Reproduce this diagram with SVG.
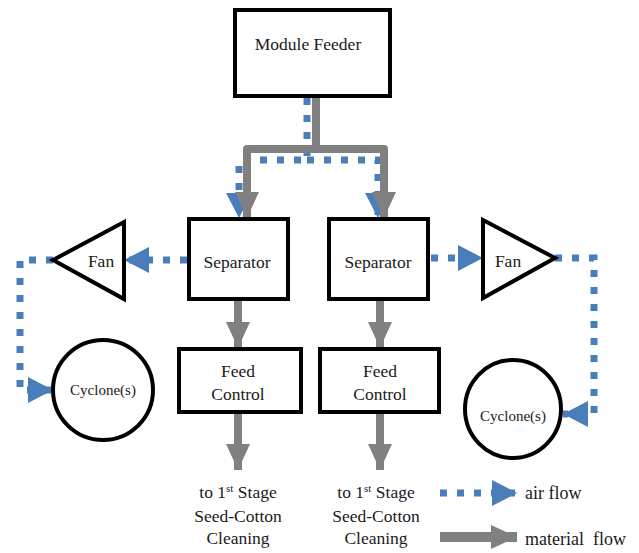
<svg xmlns="http://www.w3.org/2000/svg" width="639" height="553" viewBox="0 0 639 553">
<style>
.box{fill:#fff;stroke:#000;stroke-width:4}
.t{font-family:"Liberation Serif","DejaVu Serif",serif;font-size:17.5px;fill:#1a1a1a;text-anchor:middle}
.s{font-size:15px}
.lg{text-anchor:start;font-size:18px}
.air{fill:none;stroke:#4a7ebb;stroke-width:7;stroke-dasharray:7 10}
.mat{fill:none;stroke:#808080;stroke-width:8;stroke-linejoin:round}
</style>
<defs>
<marker id="hg" markerUnits="userSpaceOnUse" markerWidth="26" markerHeight="26" viewBox="0 0 26 26" refX="26" refY="13" orient="auto"><path d="M0,1 L26,13 L0,25 z" fill="#808080"/></marker>
<marker id="hb" markerUnits="userSpaceOnUse" markerWidth="26" markerHeight="26" viewBox="0 0 26 26" refX="25" refY="13" orient="auto"><path d="M0,0 L25,13 L0,26 z" fill="#4a7ebb"/></marker>
</defs>

<g id="connectors">
<path class="air" d="M307,98 V160 H239 V218" marker-end="url(#hb)"/>
<path class="air" d="M307,160 H378 V218" marker-end="url(#hb)"/>
<path class="mat" d="M316,98 V149 H247 V218" marker-end="url(#hg)"/>
<path class="mat" d="M316,149 H384 V218" marker-end="url(#hg)"/>
<path class="air" d="M187,260 H124" marker-end="url(#hb)"/>
<path class="air" d="M53,260 H20 V390 H53" marker-end="url(#hb)"/>
<path class="air" d="M431,258 H483" marker-end="url(#hb)"/>
<path class="air" d="M555,258 H594 V414 H563" marker-end="url(#hb)"/>
<path class="mat" d="M238,301 V348" marker-end="url(#hg)"/>
<path class="mat" d="M380,301 V348" marker-end="url(#hg)"/>
<path class="mat" d="M238,414 V470" marker-end="url(#hg)"/>
<path class="mat" d="M380,414 V470" marker-end="url(#hg)"/>
</g>

<g id="module-feeder"><rect class="box" x="235" y="10" width="155" height="86"/><text class="t" x="308" y="50">Module Feeder</text></g>
<g id="separator-left"><rect class="box" x="189" y="219" width="99" height="80"/><text class="t" x="237" y="268">Separator</text></g>
<g id="separator-right"><rect class="box" x="329" y="219" width="99" height="80"/><text class="t" x="378" y="268">Separator</text></g>
<g id="fan-left"><polygon class="box" points="53,260 124,222 124,299"/><text class="t" x="101" y="267">Fan</text></g>
<g id="fan-right"><polygon class="box" points="483,220 483,298 555,258"/><text class="t" x="508" y="267">Fan</text></g>
<g id="cyclone-left"><ellipse class="box" cx="103" cy="390" rx="50" ry="50"/><text class="t s" x="103" y="395">Cyclone(s)</text></g>
<g id="cyclone-right"><ellipse class="box" cx="513" cy="409" rx="48" ry="49"/><text class="t s" x="513" y="421">Cyclone(s)</text></g>
<g id="feed-control-left"><rect class="box" x="179" y="349" width="122" height="63"/><text class="t" x="238" y="377">Feed</text><text class="t" x="238" y="400">Control</text></g>
<g id="feed-control-right"><rect class="box" x="320" y="349" width="119" height="63"/><text class="t" x="380" y="377">Feed</text><text class="t" x="380" y="400">Control</text></g>
<g id="out-left"><text class="t" x="238" y="498">to 1<tspan font-size="11" dy="-6">st</tspan><tspan dy="6"> Stage</tspan></text><text class="t" x="238" y="522">Seed-Cotton</text><text class="t" x="238" y="544">Cleaning</text></g>
<g id="out-right"><text class="t" x="376" y="498">to 1<tspan font-size="11" dy="-6">st</tspan><tspan dy="6"> Stage</tspan></text><text class="t" x="376" y="522">Seed-Cotton</text><text class="t" x="376" y="544">Cleaning</text></g>
<g id="legend">
<path class="air" d="M440,493 H517" marker-end="url(#hb)"/>
<path class="mat" style="stroke-width:10" d="M440,537 H517" marker-end="url(#hg)"/>
<text class="t lg" x="525" y="499">air flow</text>
<text class="t lg" x="525" y="545" xml:space="preserve">material  flow</text>
</g>
</svg>
